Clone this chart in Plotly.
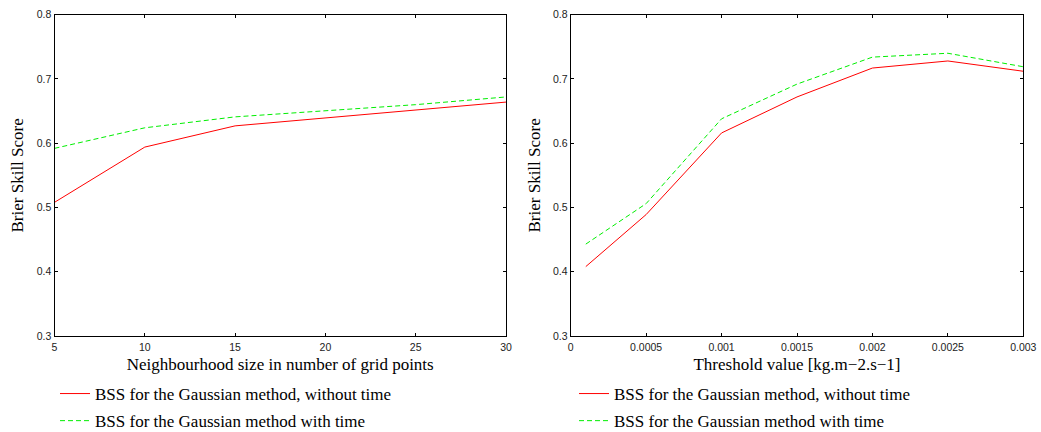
import plotly.graph_objects as go

# Left panel data
neigh_sizes = [5, 10, 15, 20, 25, 30]
bss_neigh_without_time = [0.508, 0.594, 0.627, 0.639, 0.651, 0.664]
bss_neigh_with_time = [0.592, 0.624, 0.641, 0.650, 0.660, 0.672]

# Right panel data
thresholds = [0.0001, 0.0005, 0.001, 0.0015, 0.002, 0.0025, 0.003]
bss_thr_without_time = [0.408, 0.489, 0.616, 0.672, 0.717, 0.728, 0.712]
bss_thr_with_time = [0.443, 0.506, 0.638, 0.692, 0.734, 0.740, 0.719]

name_without = "BSS for the Gaussian method, without time"
name_with = "BSS for the Gaussian method with time"

RED = "#ff0000"
GREEN = "#00ee00"
SERIF = "Liberation Serif"
SANS = "Liberation Sans"

fig = go.Figure()

fig.add_trace(go.Scatter(x=neigh_sizes, y=bss_neigh_without_time, mode="lines",
                         name=name_without, line=dict(color=RED, width=1),
                         xaxis="x", yaxis="y", legend="legend", legendgroup="a"))
fig.add_trace(go.Scatter(x=neigh_sizes, y=bss_neigh_with_time, mode="lines",
                         name=name_with, line=dict(color=GREEN, width=1, dash="5px,3px"),
                         xaxis="x", yaxis="y", legend="legend", legendgroup="b"))
fig.add_trace(go.Scatter(x=thresholds, y=bss_thr_without_time, mode="lines",
                         name=name_without, line=dict(color=RED, width=1),
                         xaxis="x2", yaxis="y2", legend="legend2", legendgroup="c"))
fig.add_trace(go.Scatter(x=thresholds, y=bss_thr_with_time, mode="lines",
                         name=name_with, line=dict(color=GREEN, width=1, dash="5px,3px"),
                         xaxis="x2", yaxis="y2", legend="legend2", legendgroup="d"))

axis_common = dict(showline=True, linecolor="black", linewidth=1, mirror="ticks",
                   ticks="inside", ticklen=3, tickcolor="black", showgrid=False,
                   zeroline=False, automargin=False,
                   tickfont=dict(family=SANS, size=10.5, color="#222"))

ydom = [1 - 336 / 432, 1 - 14.7 / 432]
title_font = dict(family=SERIF, size=17, color="black")
legend_common = dict(xanchor="left", yanchor="bottom", y=-7 / 432,
                     font=dict(family=SERIF, size=17, color="black"),
                     bgcolor="rgba(0,0,0,0)", tracegroupgap=2)

fig.update_layout(
    width=1041, height=432,
    margin=dict(l=0, r=0, t=0, b=0, autoexpand=False),
    paper_bgcolor="white", plot_bgcolor="white",
    xaxis=dict(domain=[54.5 / 1041, 506 / 1041], range=[5, 30], tickvals=[5, 10, 15, 20, 25, 30],
               ticklabelstandoff=1,
               title=dict(text="Neighbourhood size in number of grid points",
                          font=title_font, standoff=6),
               anchor="y", **axis_common),
    yaxis=dict(domain=ydom, range=[0.3, 0.8], tickvals=[0.3, 0.4, 0.5, 0.6, 0.7, 0.8],
               tickformat=".1f",
               title=dict(text="Brier Skill Score", font=title_font, standoff=8),
               anchor="x", **axis_common),
    xaxis2=dict(domain=[570.7 / 1041, 1023.3 / 1041], range=[0, 0.003],
                tickvals=[0, 0.0005, 0.001, 0.0015, 0.002, 0.0025, 0.003],
                ticktext=["0", "0.0005", "0.001", "0.0015", "0.002", "0.0025", "0.003"],
                ticklabelstandoff=1,
                title=dict(text="Threshold value [kg.m\u22122.s\u22121]",
                           font=title_font, standoff=6),
                anchor="y2", **axis_common),
    yaxis2=dict(domain=ydom, range=[0.3, 0.8], tickvals=[0.3, 0.4, 0.5, 0.6, 0.7, 0.8],
                tickformat=".1f",
                title=dict(text="Brier Skill Score", font=title_font, standoff=8),
                anchor="x2", **axis_common),
    legend=dict(x=55 / 1041, **legend_common),
    legend2=dict(x=574 / 1041, **legend_common),
)

fig.write_html("out.html")
